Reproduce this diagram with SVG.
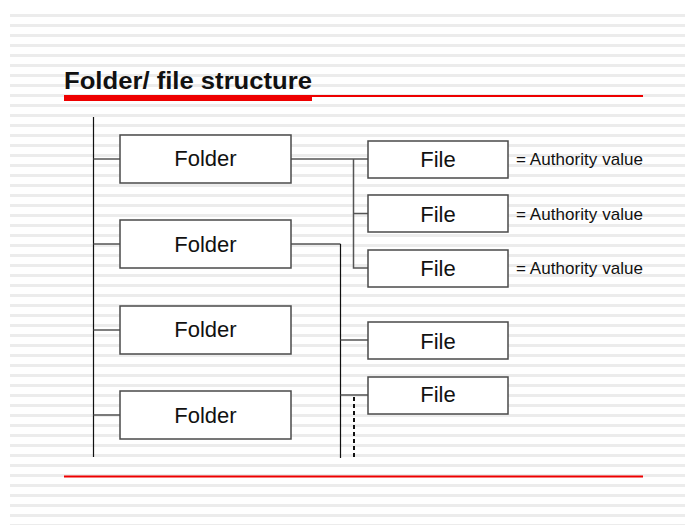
<svg xmlns="http://www.w3.org/2000/svg" width="685" height="525" viewBox="0 0 685 525">
  <defs>
    <!-- ruled paper background -->
    <pattern id="rules" x="0" y="14" width="685" height="10" patternUnits="userSpaceOnUse">
      <rect x="0" y="0" width="685" height="10" fill="#ffffff"/>
      <rect x="0" y="0" width="685" height="3" fill="#ececec"/>
    </pattern>
    <style>
      .box { fill: #ffffff; stroke: #4a4a4a; stroke-width: 1.5; }
      .lbl { font-family: "Liberation Sans", Arial, sans-serif; font-size: 22px; fill: #111111; text-anchor: middle; }
      .note { font-family: "Liberation Sans", Arial, sans-serif; font-size: 17px; fill: #111111; }
      .branch { stroke: #555555; stroke-width: 1.5; fill: none; }
      .spine { stroke: #111111; stroke-width: 1.2; fill: none; }
    </style>
  </defs>

  <rect x="0" y="0" width="685" height="525" fill="#ffffff"/>
  <rect x="10" y="14" width="675" height="511" fill="url(#rules)"/>

  <!-- title -->
  <g id="title">
    <text x="64" y="88.5" font-family="Liberation Sans, Arial, sans-serif" font-size="23" font-weight="bold" fill="#111111" textLength="248" lengthAdjust="spacingAndGlyphs">Folder/ file structure</text>
    <rect x="64" y="95" width="248" height="6" fill="#ee0000"/>
    <line x1="312" y1="96" x2="643" y2="96" stroke="#ee0000" stroke-width="2"/>
  </g>

  <!-- connectors -->
  <g id="connectors">
    <line class="spine" x1="93.5" y1="117" x2="93.5" y2="457"/>
    <line class="branch" x1="93.5" y1="159" x2="120" y2="159"/>
    <line class="branch" x1="93.5" y1="244" x2="120" y2="244"/>
    <line class="branch" x1="93.5" y1="330" x2="120" y2="330"/>
    <line class="branch" x1="93.5" y1="415" x2="120" y2="415"/>

    <line class="branch" x1="291" y1="159" x2="368" y2="159"/>
    <polyline class="branch" points="353.5,159 353.5,268 368,268"/>
    <line class="branch" x1="353.5" y1="213.5" x2="368" y2="213.5"/>

    <line class="branch" x1="291" y1="244" x2="340.5" y2="244"/>
    <line class="spine" x1="340.5" y1="244" x2="340.5" y2="458"/>
    <line class="branch" x1="340.5" y1="340" x2="368" y2="340"/>
    <line class="branch" x1="340.5" y1="395" x2="368" y2="395"/>
    <line x1="354" y1="397" x2="354" y2="458" stroke="#111111" stroke-width="2" stroke-dasharray="4 3"/>
  </g>

  <!-- folders -->
  <g id="folder1"><rect class="box" x="120" y="135" width="171" height="48"/><text class="lbl" x="205.5" y="166">Folder</text></g>
  <g id="folder2"><rect class="box" x="120" y="220" width="171" height="48"/><text class="lbl" x="205.5" y="251.5">Folder</text></g>
  <g id="folder3"><rect class="box" x="120" y="306" width="171" height="48"/><text class="lbl" x="205.5" y="337">Folder</text></g>
  <g id="folder4"><rect class="box" x="120" y="391" width="171" height="48"/><text class="lbl" x="205.5" y="422.5">Folder</text></g>

  <!-- files -->
  <g id="file1"><rect class="box" x="368" y="141" width="140" height="37"/><text class="lbl" x="438" y="166.5">File</text></g>
  <g id="file2"><rect class="box" x="368" y="195" width="140" height="37"/><text class="lbl" x="438" y="221.5">File</text></g>
  <g id="file3"><rect class="box" x="368" y="250" width="140" height="37"/><text class="lbl" x="438" y="275.5">File</text></g>
  <g id="file4"><rect class="box" x="368" y="322" width="140" height="37"/><text class="lbl" x="438" y="348.5">File</text></g>
  <g id="file5"><rect class="box" x="368" y="377" width="140" height="37"/><text class="lbl" x="438" y="401.5">File</text></g>

  <!-- authority notes -->
  <g id="notes">
    <text class="note" x="516" y="165" textLength="127">= Authority value</text>
    <text class="note" x="516" y="219.5" textLength="127">= Authority value</text>
    <text class="note" x="516" y="273.5" textLength="127">= Authority value</text>
  </g>

  <!-- footer rule -->
  <line x1="64" y1="476.5" x2="643" y2="476.5" stroke="#ee0000" stroke-width="2"/>
</svg>
